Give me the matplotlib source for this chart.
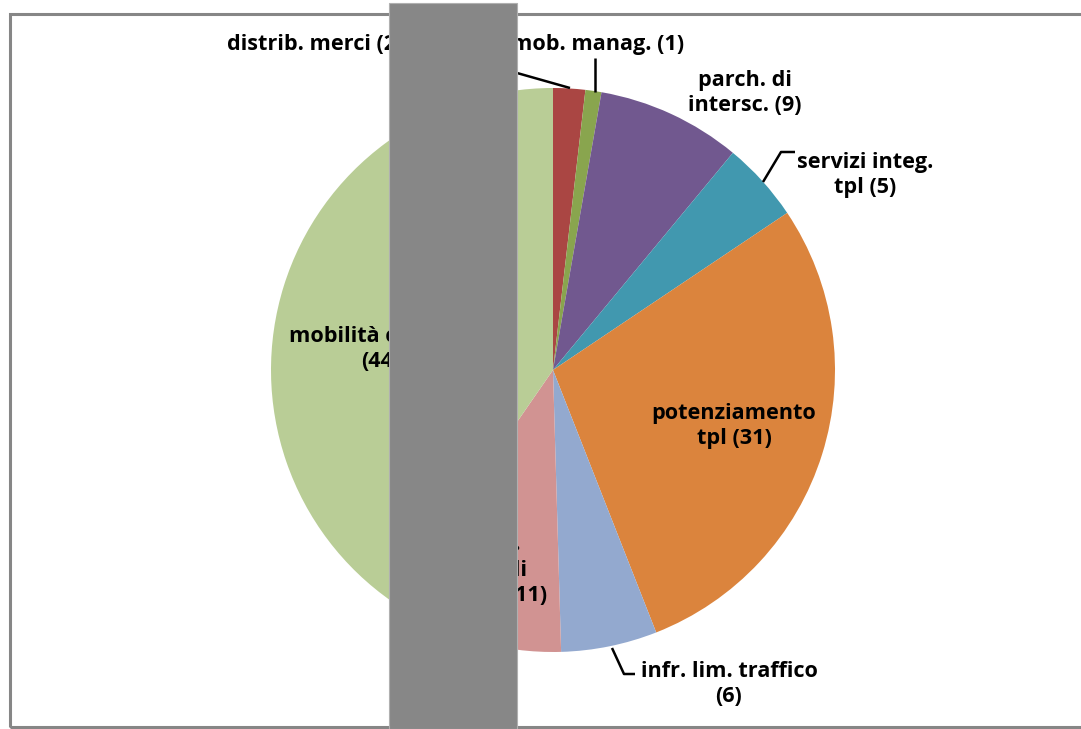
import matplotlib
matplotlib.use("Agg")
import matplotlib.pyplot as plt
from matplotlib.patches import Rectangle

W, H = 1081, 729

# slices, clockwise from 12 o'clock
categories = ["distrib. merci", "mob. manag.", "parch. di\nintersc.", "servizi integ.\ntpl",
              "potenziamento\ntpl", "infr. lim. traffico\n", "interv.\nciclabili\nurbane",
              "mobilità ciclabile\n"]
values = [2, 1, 9, 5, 31, 6, 11, 44]
colors = ["#AA4643", "#89A54E", "#71588F", "#4198AF", "#DB843D", "#93A9CF", "#D19392", "#B9CD96"]

# label layout in pixels (x, y from top), alignment
label_pos = [(227, 44, "left"), (684, 44, "right"), (745, 93, "center"), (865, 175, "center"),
             (734, 426, "center"), (729, 684, "center"), (486, 570, "center"), (381, 349, "center")]


def px(x, y):
    return x, H - y


plt.rcParams['font.family'] = ['Open Sans', 'DejaVu Sans']

fig = plt.figure(figsize=(W / 100, H / 100), dpi=100)
ax = fig.add_axes([0, 0, 1, 1])

ax.pie(values, colors=colors, startangle=90, counterclock=False,
       center=px(553, 370), radius=282, wedgeprops=dict(linewidth=0))

for (name, v), (x, y, ha) in zip(zip(categories, values), label_pos):
    if name.endswith("\n"):
        txt = name + "(%d)" % v
    else:
        txt = name + " (%d)" % v
    ax.text(*px(x, y), txt, ha=ha, va="center", fontsize=15.6, fontweight="bold",
            multialignment="center", linespacing=1.3, color="black")

# leader lines
leaders = [[(450, 54), (570, 88)], [(595, 58), (595, 92)],
           [(795, 152), (781, 152), (763, 182)], [(635, 674), (624, 674), (612, 648)]]
for pts in leaders:
    xs, ys = zip(*[px(*p) for p in pts])
    ax.plot(xs, ys, color="black", lw=1.8, solid_capstyle="butt")

ax.set_xlim(0, W)
ax.set_ylim(0, H)
ax.set_aspect("equal")
ax.axis("off")

# chart frame
fig.patches.append(Rectangle((10, 2), W + 10, H - 16, transform=None, fill=False,
                             edgecolor="#868686", lw=2.2))
# grey bar over the image
fig.patches.append(Rectangle((389, 0), 128, H - 3, transform=None, facecolor="#878787",
                             edgecolor="#b0b0b0", lw=0.8, zorder=10))

fig.savefig("out.png", dpi=100)
